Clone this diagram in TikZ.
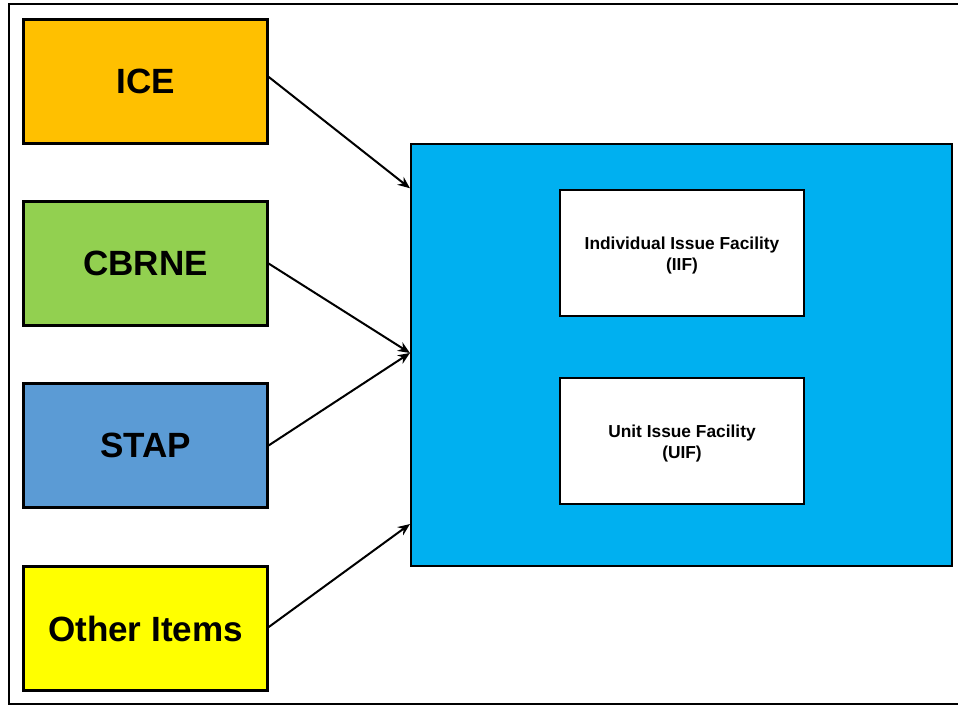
\documentclass[tikz,border=0pt]{standalone}
\usepackage{fontspec}
\setmainfont{Liberation Sans}
\usetikzlibrary{arrows.meta}

\definecolor{iceorange}{HTML}{FFC000}
\definecolor{cbrnegreen}{HTML}{92D050}
\definecolor{stapblue}{HTML}{5B9BD5}
\definecolor{otheryellow}{HTML}{FFFF00}
\definecolor{facilityblue}{HTML}{00B0F0}

\tikzset{
  srcbox/.style={draw=black, line width=1.6pt, rectangle, minimum width=183pt,
    minimum height=93pt, inner sep=0pt, font=\fontsize{26.3}{30}\selectfont\bfseries},
  hubbox/.style={draw=black, line width=1.6pt, rectangle, fill=facilityblue,
    minimum width=405.75pt, minimum height=316.5pt, inner sep=0pt},
  facbox/.style={draw=black, line width=1.6pt, rectangle, fill=white,
    minimum width=183pt, minimum height=94pt, inner sep=0pt},
  factext/.style={align=center, yshift=-2.25pt, inner sep=0pt,
    font=\fontsize{13}{15.75}\selectfont\bfseries},
  feed/.style={line width=1.5pt, -{Stealth[length=9pt,width=7.5pt]}}
}

\begin{document}
\begin{tikzpicture}[x=0.75pt, y=-0.75pt]
  \useasboundingbox (0,0) rectangle (958,706);

  % outer frame
  \draw[line width=1.6pt] (9,4) rectangle (965,704);

  % source boxes
  \node[srcbox, fill=iceorange]   (ice)   at (145.5,81.5)  {ICE};
  \node[srcbox, fill=cbrnegreen]  (cbrne) at (145.5,263.5) {CBRNE};
  \node[srcbox, fill=stapblue]    (stap)  at (145.5,445.5) {STAP};
  \node[srcbox, fill=otheryellow] (other) at (145.5,628.5) {Other Items};

  % receiving area with the two facilities
  \node[hubbox] (hub) at (681.5,355) {};
  \node[facbox] (iif) at (682,253) {};
  \node[factext] (iiftext) at (iif.center) {Individual Issue Facility\\(IIF)};
  \node[facbox] (uif) at (682,441) {};
  \node[factext] (uiftext) at (uif.center) {Unit Issue Facility\\(UIF)};

  % feeds into the receiving area
  \draw[feed] ([yshift=3.5pt]ice.east) -- ([yshift=-34pt]hub.north west);
  \draw[feed] (cbrne.east) -- ([yshift=1.5pt]hub.west);
  \draw[feed] (stap.east) -- ([yshift=1.5pt]hub.west);
  \draw[feed] ([yshift=1pt]other.east) -- ([yshift=32.25pt]hub.south west);
\end{tikzpicture}
\end{document}
